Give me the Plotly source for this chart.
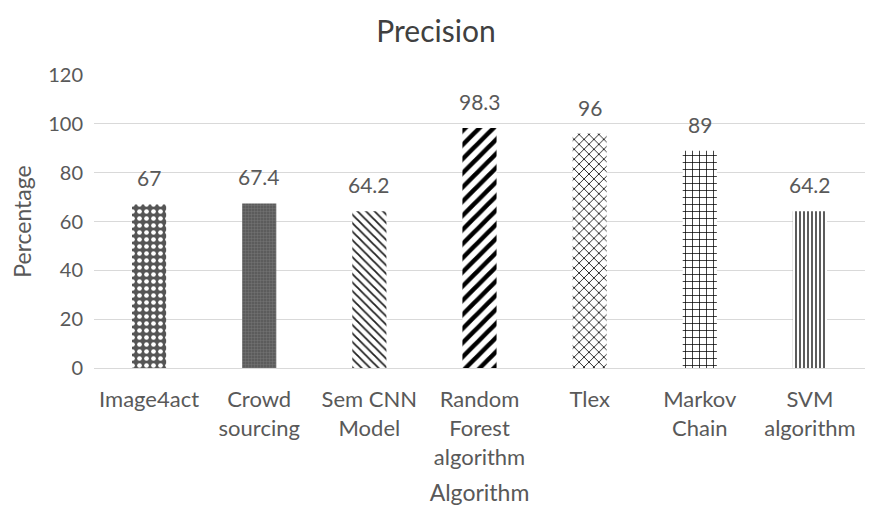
import plotly.graph_objects as go

categories = ["Image4act", "Crowd<br>sourcing", "Sem CNN<br>Model", "Random<br>Forest<br>algorithm", "Tlex", "Markov<br>Chain", "SVM<br>algorithm"]
values = [67, 67.4, 64.2, 98.3, 96, 89, 64.2]
labels = ["67", "67.4", "64.2", "98.3", "96", "89", "64.2"]

shapes = [".", ".", "\\", "/", "x", "+", "|"]
fg = ["white", "#707070", "#222222", "black", "#222222", "black", "#333333"]
bg = ["#555555", "#555555", "white", "white", "white", "white", "white"]
psize = [7, 3, 6, 10, 7, 7, 4]
solid = [0.35, 0.5, 0.3, 0.45, 0.25, 0.2, 0.4]

FONT = "Lato"
GRAY = "#595959"

fig = go.Figure(go.Bar(
    x=categories, y=values, width=0.31,
    marker=dict(color="white", line=dict(width=0),
                pattern=dict(shape=shapes, fgcolor=fg, bgcolor=bg, size=psize,
                             solidity=solid, fillmode="replace")),
))

for c, v, t in zip(categories, values, labels):
    fig.add_annotation(x=c, y=v, text=t, showarrow=False, yanchor="bottom", yshift=12,
                       font=dict(size=21, color=GRAY, family=FONT))

fig.update_layout(
    width=877, height=512,
    paper_bgcolor="white", plot_bgcolor="white",
    margin=dict(l=84, r=20, t=67, b=152),
    title=dict(text="Precision", x=0.488, xanchor="center", y=0.955, yanchor="middle",
               font=dict(size=30, color="#404040", family=FONT)),
    font=dict(family=FONT, color=GRAY),
    showlegend=False,
)
fig.update_yaxes(range=[0, 120], dtick=20, showgrid=True, gridcolor="#d9d9d9", gridwidth=1,
                 zeroline=False, showline=False, ticks="", ticklabelstandoff=10,
                 tickfont=dict(size=20, color=GRAY, family=FONT),
                 title=dict(text="Percentage", font=dict(size=23, color=GRAY, family=FONT), standoff=12))
fig.update_xaxes(showline=True, linecolor="#d9d9d9", linewidth=1, ticks="", ticklabelstandoff=12,
                 tickfont=dict(size=22, color=GRAY, family=FONT),
                 title=dict(text="Algorithm", font=dict(size=23, color=GRAY, family=FONT), standoff=16))

fig.write_html("out.html")
